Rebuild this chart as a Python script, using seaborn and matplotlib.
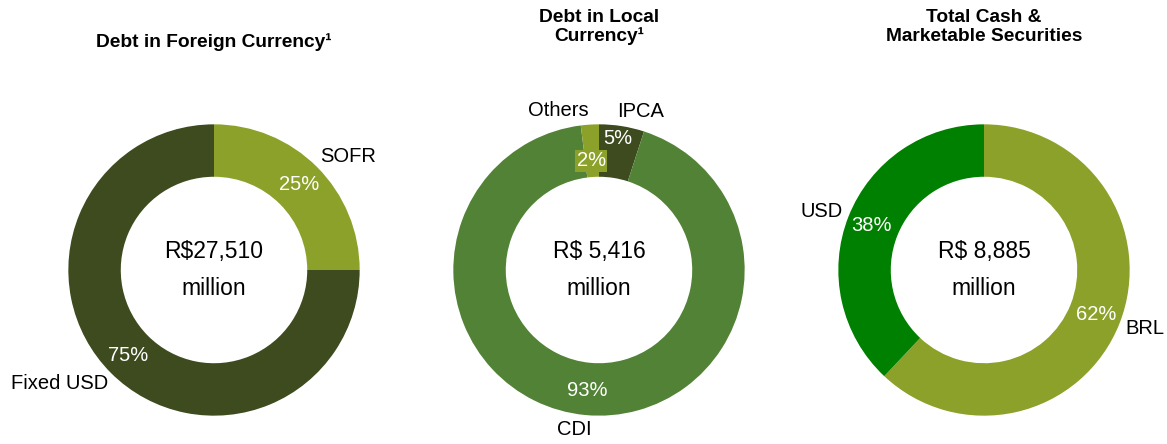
import seaborn as sns
import matplotlib.pyplot as plt

# data
titles = [
    "Debt in Foreign Currency\u00b9",
    "Debt in Local\nCurrency\u00b9",
    "Total Cash &\nMarketable Securities",
]
centers = ["R$27,510\nmillion", "R$ 5,416\nmillion", "R$ 8,885\nmillion"]

foreign_labels = ["SOFR", "Fixed USD"]
foreign_share = [25, 75]
foreign_colors = ["#8ba12a", "#3d4b1f"]

local_labels = ["IPCA", "CDI", "Others"]
local_share = [5, 93, 2]
local_colors = ["#3d4b1f", "#528236", "#8ba12a"]

cash_labels = ["BRL", "USD"]
cash_share = [62, 38]
cash_colors = ["#8ba12a", "#008000"]

sns.set_theme(style="white")
plt.rcParams["font.family"] = ["Liberation Sans", "DejaVu Sans"]

fig = plt.figure(figsize=(11.67, 4.44), dpi=100)
W, H = 1167, 444
half = 185  # axes half-size in px, pie radius = half / 1.27

pies = [
    (foreign_share, foreign_labels, foreign_colors),
    (local_share, local_labels, local_colors),
    (cash_share, cash_labels, cash_colors),
]
cx = [214, 599, 984]
cy = 270

for i, (vals, labs, cols) in enumerate(pies):
    ax = fig.add_axes([(cx[i] - half) / W, (H - cy - half) / H, 2 * half / W, 2 * half / H])
    wedges, texts, autotexts = ax.pie(
        vals, labels=labs, colors=cols, startangle=90, counterclock=False,
        autopct="%d%%", pctdistance=0.83, labeldistance=1.1,
        wedgeprops=dict(width=0.36, linewidth=0),
        textprops=dict(fontsize=14.5, color="black"),
    )
    # pull outer labels a touch closer horizontally
    for t in texts:
        if t.get_text() == "Others":
            continue
        x, y = t.get_position()
        t.set_position((x - 0.05 if x > 0 else x + 0.05, y))
    for t in autotexts:
        t.set_color("white")
        t.set_fontsize(14.5)
    ax.set_xlim(-1.27, 1.27)
    ax.set_ylim(-1.27, 1.27)
    ax.set_aspect("equal")
    ax.axis("off")
    ax.text(0, 0.0, centers[i], ha="center", va="center", fontsize=16.5,
            color="black", linespacing=1.75)
    if i == 1:
        # small "Others" share gets a coloured box like the source
        autotexts[2].set_bbox(dict(facecolor=local_colors[2], edgecolor="none", pad=1))
        x, y = autotexts[2].get_position()
        autotexts[2].set_position((x, y - 0.08))
        x, y = autotexts[0].get_position()
        autotexts[0].set_position((x, y + 0.08))
    fig.text(cx[i] / W, 1 - (42 if i == 0 else 27) / H, titles[i], ha="center",
             va="center", fontsize=13.8, fontweight="bold", color="black",
             linespacing=1.15)

fig.savefig("out.png", dpi=100)
